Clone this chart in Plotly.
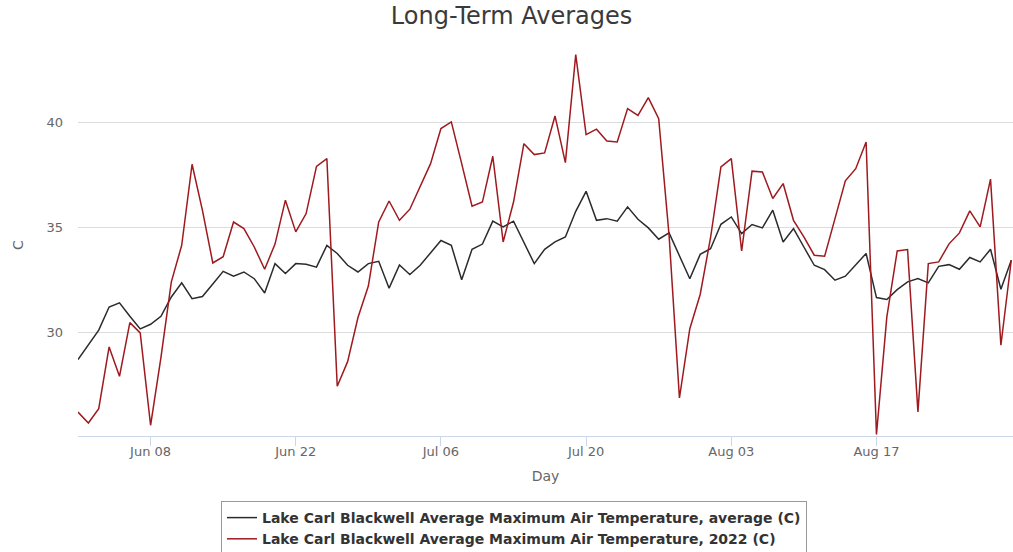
import pandas as pd
import plotly.graph_objects as go

dates = pd.date_range("2022-06-01", periods=91, freq="D")

avg_vals = [28.7, 29.4, 30.1, 31.2, 31.4, 30.76, 30.16, 30.38, 30.76, 31.68,
            32.35, 31.6, 31.7, 32.3, 32.9, 32.67, 32.87, 32.55, 31.87, 33.27,
            32.8, 33.27, 33.24, 33.1, 34.14, 33.75, 33.19, 32.87, 33.27, 33.38,
            32.1, 33.2, 32.75, 33.19, 33.8, 34.37, 34.14, 32.5, 33.95, 34.2,
            35.29, 35.02, 35.29, 34.27, 33.27, 33.95, 34.3, 34.54, 35.76, 36.71,
            35.33, 35.41, 35.29, 35.97, 35.38, 34.97, 34.43, 34.73, 33.63, 32.55,
            33.71, 33.98, 35.14, 35.49, 34.7, 35.13, 34.97, 35.81, 34.3, 34.94,
            34.06, 33.19, 32.98, 32.48, 32.67, 33.19, 33.75, 31.65, 31.56, 32.03,
            32.4, 32.56, 32.35, 33.14, 33.22, 33.0, 33.56, 33.35, 33.95, 32.05,
            33.43]

vals_2022 = [26.2, 25.68, 26.36, 29.3, 27.9, 30.46, 29.97, 25.57, 28.8, 32.4,
             34.14, 38.0, 35.8, 33.3, 33.6, 35.25, 34.94, 34.06, 33.0, 34.2,
             36.29, 34.78, 35.65, 37.9, 38.27, 27.43, 28.6, 30.7, 32.2, 35.25,
             36.25, 35.33, 35.86, 36.92, 38.03, 39.7, 40.02, 38.03, 36.0, 36.2,
             38.38, 34.3, 36.2, 38.98, 38.46, 38.54, 40.3, 38.08, 43.22, 39.41,
             39.67, 39.11, 39.06, 40.65, 40.33, 41.17, 40.17, 34.62, 26.87, 30.17,
             31.8, 34.5, 37.87, 38.27, 33.87, 37.67, 37.63, 36.37, 37.08, 35.33,
             34.54, 33.67, 33.62, 35.41, 37.21, 37.79, 39.06, 25.13, 30.73, 33.87,
             33.94, 26.21, 33.27, 33.35, 34.21, 34.73, 35.78, 35.02, 37.29, 29.38,
             33.43]

name_avg = "Lake Carl Blackwell Average Maximum Air Temperature, average (C)"
name_2022 = "Lake Carl Blackwell Average Maximum Air Temperature, 2022 (C)"

font_family = "DejaVu Sans, Verdana, sans-serif"

fig = go.Figure()
fig.add_trace(go.Scatter(x=dates, y=avg_vals, mode="lines", name=name_avg,
                         line=dict(color="#2b2b2b", width=1.5)))
fig.add_trace(go.Scatter(x=dates, y=vals_2022, mode="lines", name=name_2022,
                         line=dict(color="#9e1a1f", width=1.5)))

fig.update_layout(
    width=1013, height=552,
    margin=dict(l=78, r=0, t=54, b=116, autoexpand=False),
    paper_bgcolor="white", plot_bgcolor="white",
    font=dict(family=font_family, color="#666666", size=13),
    title=dict(text="Long-Term Averages", x=0.505, xanchor="center",
               y=1 - 16 / 552, yanchor="middle",
               font=dict(size=24, color="#3a3a3a", family=font_family)),
    showlegend=True,
    legend=dict(x=(221 - 78) / 935, xanchor="left",
                y=(436 - 501) / 382, yanchor="top",
                bordercolor="#999999", borderwidth=1, bgcolor="white",
                font=dict(size=14, color="#333333", weight="bold", family=font_family),
                itemwidth=30, tracegroupgap=0),
    xaxis=dict(
        range=[pd.Timestamp("2022-06-01"), pd.Timestamp("2022-08-30 04:00")],
        tick0="2022-06-08", dtick=14 * 86400000, tickformat="%b %d",
        tickangle=0,
        ticks="outside", ticklen=9, tickcolor="#ccd6eb", tickwidth=1,
        showline=True, linecolor="#ccd6eb", linewidth=1,
        showgrid=False, zeroline=False,
        ticklabelstandoff=-6,
        tickfont=dict(size=13, color="#666666"),
        title=dict(text="Day", font=dict(size=14, color="#666666"), standoff=13),
    ),
    yaxis=dict(
        range=[25.06, 43.25],
        tickvals=[30, 35, 40],
        showgrid=True, gridcolor="#dcdcdc", gridwidth=1,
        zeroline=False, showline=False,
        ticklabelstandoff=14,
        tickfont=dict(size=13, color="#666666"),
        title=dict(text="C", font=dict(size=14, color="#666666"), standoff=19),
    ),
)

fig.write_html("out.html",
               config={"displayModeBar": False},
               post_script="document.body.style.margin='0';document.body.style.overflow='hidden';")
